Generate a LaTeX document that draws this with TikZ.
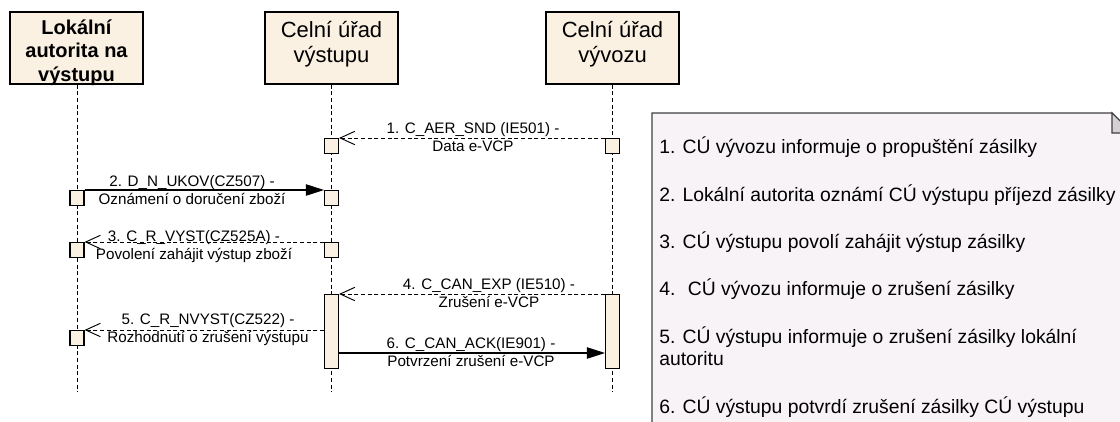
\documentclass[tikz,border=0pt]{standalone}
\usepackage{fontspec}
\setmainfont{Liberation Sans}
\usetikzlibrary{arrows.meta}
\usetikzlibrary{positioning}

\definecolor{headfill}{HTML}{FBF1E3}
\definecolor{notefill}{HTML}{F7F3F7}
\definecolor{foldfill}{HTML}{D4D0D4}

\tikzset{
    head/.style={draw, line width=0.8pt, fill=headfill, minimum width=99.75pt, minimum height=54pt, inner sep=0pt},
    headtext/.style={align=center, inner sep=0pt, font=\fontsize{16.5}{19}\selectfont},
    headbold/.style={headtext, font=\fontsize{15}{17.6}\selectfont\bfseries},
    life/.style={line width=0.7pt, dash pattern=on 3pt off 2pt},
    act/.style={draw, line width=0.8pt, fill=headfill, minimum width=10.5pt, minimum height=11.25pt, inner sep=0pt, anchor=north},
    bar/.style={act, minimum height=55.5pt},
    call/.style={line width=0.8pt, -{Triangle[length=13.5pt,width=8.5pt]}},
    reply/.style={line width=0.7pt, dash pattern=on 3pt off 2pt, -{Straight Barb[length=11pt,width=10pt]}},
    msg/.style={align=center, inner sep=0pt, font=\fontsize{11.4}{13.5}\selectfont},
    notetext/.style={anchor=base west, align=left, inner sep=0pt, font=\fontsize{14.5}{16.5}\selectfont}
}

\begin{document}
\begin{tikzpicture}[x=0.75pt, y=-0.75pt]
            \useasboundingbox (0,0) rectangle (1120,421);
            \clip (0,0) rectangle (1120,421);
            \node[head] (LA) at (76.5,48) {};
            \node[head] (CV) at (331.5,48) {};
            \node[head] (CE) at (612.5,48) {};
            \node[headbold] (LAt) at (76.5,52.5) {Lokální\\autorita na\\výstupu};
            \node[headtext] (CVt) at (331.5,44) {Celní úřad\\výstupu};
            \node[headtext] (CEt) at (612.5,44) {Celní úřad\\vývozu};
            \coordinate (LAend) at (77,392);
            \coordinate (CVend) at (331.5,392);
            \coordinate (CEend) at (612.5,392);
            \draw[life] (LA.south -| LAend) -- (LAend);
            \draw[life] (CV.south) -- (CVend);
            \draw[life] (CE.south) -- (CEend);
            % activations
            \node[act] (a1v) at (331.5,138) {};
            \node[act] (a1e) at (612.5,138) {};
            \node[act] (a2l) at (77,190) {};
            \node[act] (a2v) at (331.5,190) {};
            \node[act] (a3l) at (77,242) {};
            \node[act] (a3v) at (331.5,242) {};
            \node[bar] (bv) at (331.5,294) {};
            \node[bar] (be) at (612.5,294) {};
            \node[act] (a5l) at (77,330) {};
            \coordinate (m6) at (470,353);
            \path[reply] (a1e.north west) edge (a1v.north east);
            \path[call] (a2l.north east) edge (a2v.north west);
            \path[reply] (a3v.north west) edge (a3l.north east);
            \path[reply] (be.north west) edge (bv.north east);
            \path[reply] (bv.west |- a5l.north) edge (a5l.north east);
            \path[call] (bv.east |- m6) edge (be.west |- m6);
            \node[msg] (l1) at (473,137) {1. C\_AER\_SND (IE501) -\\Data e-VCP};
            \node[msg] (l2) at (192,190.5) {2. D\_N\_UKOV(CZ507) -\\Oznámení o doručení zboží};
            \node[msg] (l3) at (194,247) {3. C\_R\_VYST(CZ525A) -\\Povolení zahájit výstup zboží};
            \node[msg] (l4) at (489,293.5) {4. C\_CAN\_EXP (IE510) -\\Zrušení e-VCP};
            \node[msg] (l5) at (208,329.5) {5. C\_R\_NVYST(CZ522) -\\Rozhodnutí o zrušení výstupu};
            \node[msg] (l6) at (471,352) {6. C\_CAN\_ACK(IE901) -\\Potvrzení zrušení e-VCP};
            % note
            \draw[line width=0.8pt, draw=black!75, fill=notefill] (652,113) -- (1112,113) -- (1132,133) -- (1132,440) -- (652,440) -- cycle;
            \draw[line width=0.8pt, draw=black!75, fill=foldfill] (1112,113) -- (1112,133) -- (1132,133) -- cycle;
            \node[notetext] (n1) at (659,153) {1. CÚ vývozu informuje o propuštění zásilky};
            \node[notetext] (n2) at (659,201) {2. Lokální autorita oznámí CÚ výstupu příjezd zásilky};
            \node[notetext] (n3) at (659,248) {3. CÚ výstupu povolí zahájit výstup zásilky};
            \node[notetext] (n4) at (659,295) {4.~ CÚ vývozu informuje o zrušení zásilky};
            \node[notetext] (n5) at (659,365) {5. CÚ výstupu informuje o zrušení zásilky lokální\\autoritu};
            \node[notetext] (n6) at (659,413) {6. CÚ výstupu potvrdí zrušení zásilky CÚ výstupu};
\end{tikzpicture}
\end{document}
